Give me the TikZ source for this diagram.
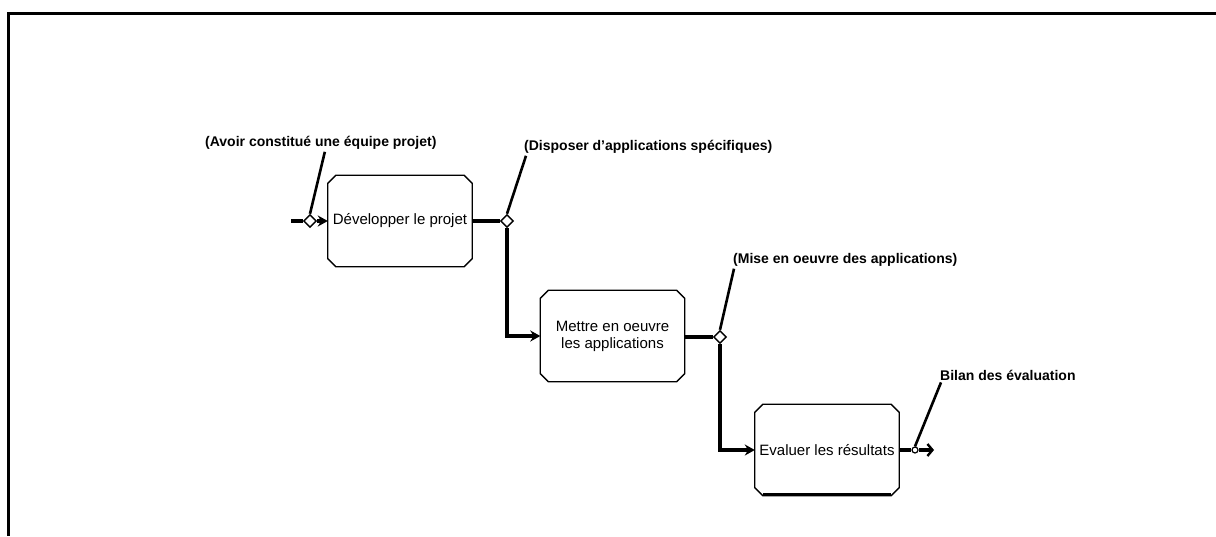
\documentclass[tikz,border=0pt]{standalone}
\usepackage{fontspec}
\setmainfont{Liberation Sans}
\usetikzlibrary{shapes.geometric,arrows.meta}

% chamfered outline drawn around a (borderless) task node
\newcommand\chamferbox[2][]{%
  \draw[boxline,#1] ([xshift=8pt]#2.north west) -- ([xshift=-8pt]#2.north east)
    -- ([yshift=-8pt]#2.north east) -- ([yshift=8pt]#2.south east)
    -- ([xshift=-8pt]#2.south east) -- ([xshift=8pt]#2.south west)
    -- ([yshift=8pt]#2.south west) -- ([yshift=-8pt]#2.north west) -- cycle;}

\begin{document}
\begin{tikzpicture}[x=1pt,y=-1pt,
  task/.style={rectangle, minimum width=144pt, minimum height=91pt,
    inner sep=0pt, align=center, font=\fontsize{15}{17}\selectfont},
  boxline/.style={line width=1.3pt, line join=miter},
  gate/.style={diamond, draw, fill=white, line width=1.4pt,
    minimum size=13pt, inner sep=0pt},
  endgate/.style={circle, draw, fill=white, line width=1.2pt,
    minimum size=6pt, inner sep=0pt},
  cond/.style={anchor=west, inner sep=0pt,
    font=\fontsize{14}{16}\selectfont\bfseries},
  flow/.style={line width=3.6pt},
  tip/.style={-{Stealth[length=10pt,width=11pt]}},
  leader/.style={line width=2.6pt}
]
\useasboundingbox (0,0) rectangle (1216,536);

% page frame
\draw[line width=3pt] (1216,13) -- (8,13) -- (8,536);

% tasks
\node[task] (b1) at (400,221) {Développer le projet};
\node[task] (b2) at (612.5,336) {Mettre en oeuvre\\les applications};
\node[task] (b3) at (827,450) {Evaluer les résultats};
\chamferbox{b1}
\chamferbox{b2}
\chamferbox{b3}
\draw[line width=3pt] ([xshift=8pt,yshift=1pt]b3.south west) -- ([xshift=-8pt,yshift=1pt]b3.south east);

% gates
\node[gate] (d0) at (310,221) {};
\node[gate] (d1) at (507,221) {};
\node[gate] (d2) at (720,337) {};
\node[endgate] (d3) at (915,450) {};
\coordinate (in) at (291,221);
\coordinate (out) at (934,450);

% conditions
\node[cond] (l0) at (205,143) {(Avoir constitué une équipe projet)};
\node[cond] (l1) at (524,147) {(Disposer d'applications spécifiques)};
\node[cond] (l2) at (733,260) {(Mise en oeuvre des applications)};
\node[cond] (l3) at (940,375) {Bilan des évaluation};

% flow
\draw[flow] (in) -- (d0);
\draw[flow,tip] (d0) -- (b1.west);
\draw[flow] (b1.east) -- (d1);
\draw[flow,tip] (d1.south) |- (b2.west);
\draw[flow] (b2.east |- d2) -- (d2);
\draw[flow,tip] (d2.south) |- (b3.west);
\draw[flow] (b3.east) -- (d3);
\draw[flow,-{Straight Barb[length=5pt,width=12pt,line width=2.4pt]}] (d3) -- (out);

% leaders from condition labels
\draw[leader] ([xshift=4pt,yshift=-2pt]l0.south) -- (d0.north);
\draw[leader] ([xshift=2pt,yshift=-2pt]l1.south west) -- (d1.north);
\draw[leader] ([xshift=1pt,yshift=-2pt]l2.south west) -- (d2.north);
\draw[leader] ([xshift=1pt,yshift=-2pt]l3.south west) -- (d3.north);
\end{tikzpicture}
\end{document}
